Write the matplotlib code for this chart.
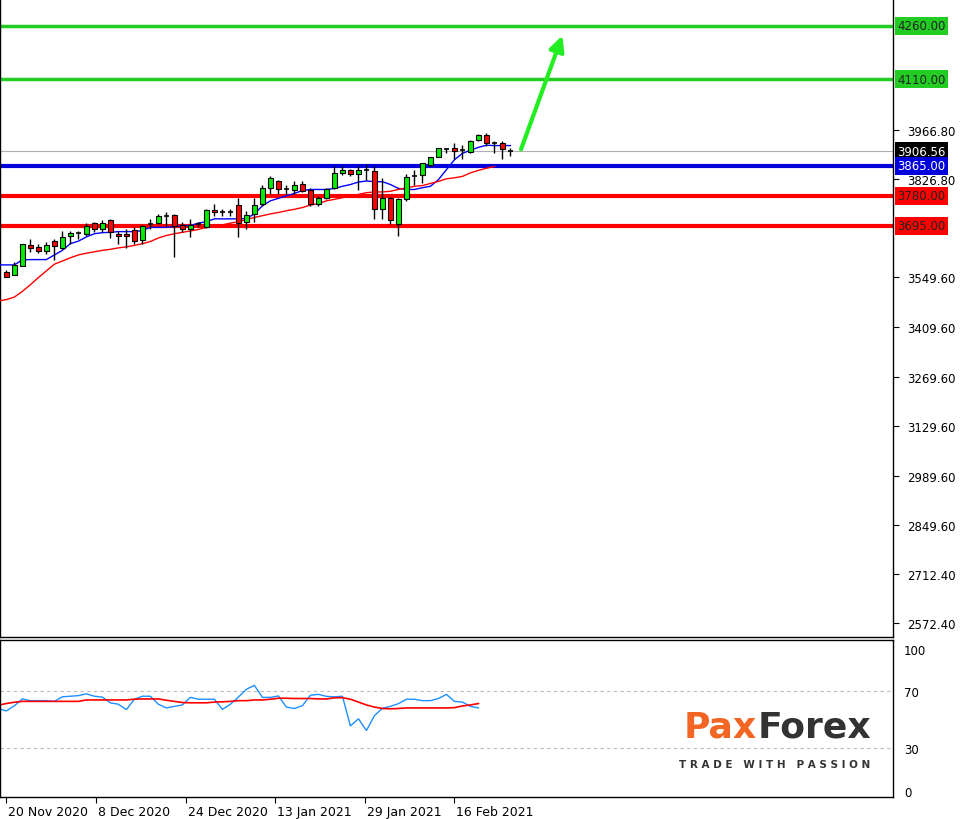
import matplotlib
matplotlib.use("Agg")
import matplotlib.pyplot as plt
import matplotlib.transforms as mt
import numpy as np

opens  = [3571,3564,3557,3583,3640,3636,3625,3652,3633,3666,3673,3671,3704,3686,3712,3672,3672,3684,3655,3700,
          3703,3724,3727,3698,3687,3700,3691,3740,3733,3733,3755,3705,3729,3758,3803,3822,3800,3796,3814,3796,
          3758,3775,3803,3845,3852,3842,3852,3851,3742,3774,3701,3772,3837,3840,3868,3891,3912,3914,3910,3905,
          3937,3951,3928,3928,3907]
highs  = [3575,3571,3592,3644,3659,3645,3650,3659,3682,3682,3682,3703,3707,3712,3716,3682,3687,3691,3698,3715,
          3729,3733,3730,3705,3715,3705,3744,3756,3744,3742,3775,3738,3775,3812,3835,3826,3812,3821,3823,3803,
          3780,3803,3863,3863,3856,3863,3871,3863,3831,3776,3775,3843,3854,3874,3891,3916,3914,3930,3923,3937,
          3954,3958,3935,3935,3914]
lows   = [3564,3552,3557,3583,3622,3620,3617,3599,3631,3645,3659,3668,3677,3677,3662,3645,3633,3645,3645,3687,
          3701,3696,3608,3677,3664,3691,3689,3724,3724,3724,3664,3687,3705,3750,3784,3784,3784,3784,3791,3750,
          3750,3770,3798,3840,3835,3796,3826,3715,3715,3701,3666,3766,3812,3815,3863,3889,3900,3883,3883,3900,
          3935,3921,3900,3883,3893]
closes = [3571,3552,3585,3644,3633,3625,3642,3638,3664,3675,3674,3694,3686,3704,3677,3666,3666,3652,3696,3701,
          3722,3724,3695,3687,3698,3701,3740,3733,3733,3733,3703,3727,3755,3803,3830,3798,3800,3811,3793,3758,
          3775,3800,3845,3854,3842,3854,3852,3742,3774,3712,3772,3833,3837,3872,3889,3914,3913,3908,3910,3935,
          3953,3930,3928,3911,3907]
ma_fast = [3585,3585,3585,3599,3600,3600,3600,3613,3626,3645,3652,3664,3673,3676,3677,3679,3679,3679,3682,3691,
           3691,3691,3693,3696,3696,3703,3707,3715,3715,3715,3715,3716,3729,3752,3766,3773,3780,3787,3795,3798,
           3798,3798,3801,3807,3812,3819,3822,3820,3820,3812,3801,3798,3798,3803,3807,3826,3854,3882,3900,3909,
           3917,3923,3922,3922,3922]
ma_slow = [3483,3487,3494,3510,3529,3549,3568,3587,3596,3605,3613,3618,3622,3626,3629,3633,3636,3640,3645,3651,
           3661,3668,3673,3677,3681,3685,3691,3694,3698,3703,3707,3713,3719,3724,3729,3733,3738,3742,3747,3754,
           3758,3766,3770,3775,3780,3784,3789,3791,3791,3793,3798,3803,3807,3809,3815,3821,3828,3831,3835,3845,
           3852,3858,3863]
osc_main = [58,56.3,59.9,64.7,63.5,63.5,63.5,63,66.2,66.6,67,68.3,66.6,66,62,61,57.2,64.5,66.6,66.6,
            61,58.4,59.5,60.5,65.8,64.5,64.5,64.5,57.4,61,66,71.5,74.2,65.8,65.8,66.8,59,58,60,67.3,
            67.9,66.5,66.2,66.6,45.8,50.8,42.6,53,58.2,59.5,61.4,64.5,64.5,63.5,63.5,65,67.9,63,62.5,59.5,58.4]
osc_signal = [60.3,61.5,62.4,63,63,63,63,63,63,63,63,64,64,64,64,64,64,64.5,64.7,64.7,
              64.7,63.8,63,62.2,62,62,62,62.5,62.7,63,63.5,63.5,64,64,64.5,65.2,65.2,65,65,65,
              64.7,64.7,65.5,65.6,64.5,62.5,60.5,59,58,57.8,58,58.4,58.4,58.4,58.4,58.4,58.4,58.6,59.8,60.5,61.5]
green_levels = [4260.00, 4110.00]
red_levels = [3780.00, 3695.00]
blue_level = 3865.00
last_price = 3906.56
price_ticks = [3966.80, 3826.80, 3549.60, 3409.60, 3269.60, 3129.60, 2989.60, 2849.60, 2712.40, 2572.40]
date_pos = [2, 13.2, 24.4, 35.6, 46.8, 58]
date_labels = ["20 Nov 2020", "8 Dec 2020", "24 Dec 2020", "13 Jan 2021", "29 Jan 2021", "16 Feb 2021"]
arrow_from = (66.2, 3904)
arrow_to = (71.6, 4240)

W, H = 960, 820
fig = plt.figure(figsize=(9.6, 8.2), dpi=100)
fig.patch.set_facecolor("white")
axw = 893 / W
ax = fig.add_axes([0, 1 - 638 / H, axw, 638 / H])
ax2 = fig.add_axes([0, 1 - 798 / H, axw, (798 - 641) / H])
XL = (1.21, 112.8)
for a in (ax, ax2):
    a.set_xlim(*XL)
    for s in a.spines.values():
        s.set_color("black"); s.set_linewidth(1)
ax.spines["top"].set_visible(False)
ax.set_ylim(2534, 4336)
ax2.set_ylim(-4, 106)

ax.axhline(last_price, color="#b0b0b0", lw=0.8, zorder=1)
for lv in green_levels:
    ax.axhline(lv, color="#22cc22", lw=2.5, zorder=2)
for lv in red_levels:
    ax.axhline(lv, color="#ff0000", lw=3, zorder=2)
ax.axhline(blue_level, color="#0000dd", lw=3, zorder=2)

x = np.arange(1, len(opens) + 1)
ax.plot(np.arange(1, len(ma_fast) + 1), ma_fast, color="#0000ff", lw=1, zorder=3)
ax.plot(np.arange(1, len(ma_slow) + 1), ma_slow, color="#ff0000", lw=1, zorder=3)
bw = 0.6
for xi, o, h, l, c in zip(x, opens, highs, lows, closes):
    ax.vlines(xi, l, h, color="black", lw=1, zorder=4)
    if abs(c - o) < 2:
        ax.hlines(c, xi - bw / 2, xi + bw / 2, color="black", lw=1.2, zorder=5)
    else:
        col = "#00ee00" if c > o else "#ff0000"
        ax.add_patch(plt.Rectangle((xi - bw / 2, min(o, c)), bw, abs(c - o),
                                   facecolor=col, edgecolor="black", lw=0.8, zorder=5))

ax.annotate("", xy=arrow_to, xytext=arrow_from,
            arrowprops=dict(arrowstyle="-|>,head_length=0.9,head_width=0.45", color="#22ee22", lw=3))

ax.yaxis.tick_right()
ax.set_yticks(price_ticks)
ax.set_yticklabels([f"{v:.2f}" for v in price_ticks], fontsize=8.5)
ax.tick_params(axis="y", length=4, pad=6)
ax.set_xticks([])

def box(val, fc, tc):
    ax.text(1.005, val, f"{val:.2f}", transform=ax.get_yaxis_transform(), fontsize=8.5,
            color=tc, va="center", ha="left",
            bbox=dict(boxstyle="square,pad=0.2", fc=fc, ec="none"), clip_on=False)
box(green_levels[0], "#22cc22", "#222222")
box(green_levels[1], "#22cc22", "#222222")
box(last_price, "black", "white")
box(blue_level, "#0000dd", "white")
box(red_levels[0], "#ff0000", "#222222")
box(red_levels[1], "#ff0000", "#222222")

ax2.axhline(70, color="#bbbbbb", ls=(0, (3, 3)), lw=0.8)
ax2.axhline(30, color="#bbbbbb", ls=(0, (3, 3)), lw=0.8)
ax2.plot(np.arange(1, len(osc_main) + 1), osc_main, color="#1e90ff", lw=1)
ax2.plot(np.arange(1, len(osc_signal) + 1), osc_signal, color="#ff0000", lw=1.2)
ax2.yaxis.tick_right()
ax2.set_yticks([100, 70, 30, 0])
ax2.set_yticklabels(["100", "70", "30", "0"], fontsize=8.5)
ax2.tick_params(axis="y", length=0, pad=8)
ax2.set_xticks(date_pos)
ax2.set_xticklabels(date_labels, fontsize=9, ha="left")
ax2.tick_params(axis="x", length=4, direction="out", pad=2)
off = mt.ScaledTranslation(2 / 100, 0, fig.dpi_scale_trans)
for lbl in ax2.get_xticklabels():
    lbl.set_transform(lbl.get_transform() + off)

fig.text(684 / W, 1 - 728 / H, "Pax", fontsize=26, color="#f26522", va="center", ha="left", fontweight="bold")
fig.text(758 / W, 1 - 728 / H, "Forex", fontsize=26, color="#333333", va="center", ha="left", fontweight="bold")
fig.text(775 / W, 1 - 765 / H, "T R A D E   W I T H   P A S S I O N", fontsize=7.5, color="#333333",
         va="center", ha="center", fontweight="bold")

fig.savefig("out.png", dpi=100)
